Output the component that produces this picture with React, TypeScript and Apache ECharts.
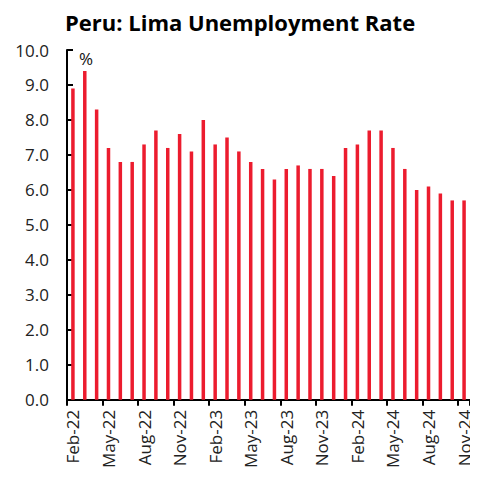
import React, { useEffect, useRef } from "react";
import * as echarts from "echarts";

const categories = [
  "Feb-22", "Mar-22", "Apr-22", "May-22", "Jun-22", "Jul-22", "Aug-22", "Sep-22", "Oct-22", "Nov-22", "Dec-22",
  "Jan-23", "Feb-23", "Mar-23", "Apr-23", "May-23", "Jun-23", "Jul-23", "Aug-23", "Sep-23", "Oct-23", "Nov-23", "Dec-23",
  "Jan-24", "Feb-24", "Mar-24", "Apr-24", "May-24", "Jun-24", "Jul-24", "Aug-24", "Sep-24", "Oct-24", "Nov-24",
];

const unemployment = [
  8.9, 9.4, 8.3, 7.2, 6.8, 6.8, 7.3, 7.7, 7.2, 7.6, 7.1,
  8.0, 7.3, 7.5, 7.1, 6.8, 6.6, 6.3, 6.6, 6.7, 6.6, 6.6, 6.4,
  7.2, 7.3, 7.7, 7.7, 7.2, 6.6, 6.0, 6.1, 5.9, 5.7, 5.7,
];

const FONT = "'Open Sans', 'Noto Sans', sans-serif";

export default function App() {
  const ref = useRef<HTMLDivElement>(null);
  useEffect(() => {
    if (!ref.current) return;
    const chart = echarts.init(ref.current, undefined, { renderer: "svg" });
    chart.setOption({
      animation: false,
      backgroundColor: "#ffffff",
      title: {
        text: "Peru: Lima Unemployment Rate",
        left: 52,
        top: -2,
        textStyle: { fontFamily: FONT, fontSize: 22, fontWeight: "bold", color: "#000" },
      },
      graphic: [
        {
          type: "text",
          left: 71,
          top: 42,
          style: { text: "%", fontFamily: FONT, fontSize: 17, fill: "#111" },
        },
      ],
      grid: { left: 59, right: 8, top: 42, bottom: 69 },
      xAxis: {
        type: "category",
        data: categories,
        boundaryGap: true,
        axisLine: { lineStyle: { color: "#000", width: 2 } },
        axisTick: { show: true, interval: 2, length: 6, lineStyle: { color: "#000", width: 2 } },
        axisLabel: {
          interval: 2,
          rotate: 90,
          margin: 10,
          fontFamily: FONT,
          fontSize: 17,
          color: "#222",
        },
      },
      yAxis: {
        type: "value",
        min: 0,
        max: 10,
        interval: 1,
        splitLine: { show: false },
        axisLine: { show: true, lineStyle: { color: "#000", width: 2 } },
        axisTick: { show: true, inside: true, length: 6, lineStyle: { color: "#000", width: 2 } },
        axisLabel: {
          margin: 18,
          fontFamily: FONT,
          fontSize: 17,
          color: "#222",
          formatter: (v: number) => v.toFixed(1),
        },
      },
      series: [
        {
          type: "bar",
          data: unemployment,
          barWidth: 3.5,
          itemStyle: { color: "#EC1C2E" },
        },
      ],
    });
    return () => chart.dispose();
  }, []);
  return <div ref={ref} style={{ width: 470, height: 463 }} />;
}
